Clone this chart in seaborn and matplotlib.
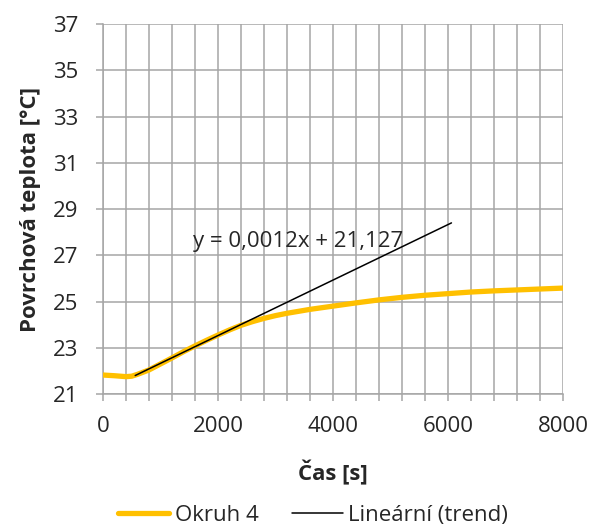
import matplotlib
matplotlib.use("Agg")
import matplotlib.pyplot as plt
from matplotlib.ticker import MultipleLocator, FixedLocator
from matplotlib.lines import Line2D
import seaborn as sns
import pandas as pd
import numpy as np

# Measured surface temperature of circuit 4
time_s = [0, 200, 400, 500, 600, 800, 1000, 1200, 1400, 1600, 1800, 2000,
          2200, 2400, 2600, 2800, 3000, 3200, 3600, 4000, 4400, 4800, 5200,
          5600, 6000, 6400, 6800, 7200, 7600, 8000]
temp_c = [21.82, 21.79, 21.75, 21.77, 21.85, 22.04, 22.3, 22.56, 22.83, 23.08,
          23.32, 23.55, 23.77, 23.97, 24.13, 24.27, 24.39, 24.49, 24.66, 24.8,
          24.94, 25.07, 25.18, 25.27, 25.34, 25.41, 25.46, 25.5, 25.54, 25.58]

# Linear trend fitted to the rising part
trend_slope = 0.0012
trend_intercept = 21.127
trend_range = [560, 6060]
trend_label = "y = 0,0012x + 21,127"

y_ticks = [21, 23, 25, 27, 29, 31, 33, 35, 37]
series_name = "Okruh 4"
trend_name = "Lineární (trend)"
x_label = "Čas [s]"
y_label = "Povrchová teplota [°C]"

sns.set_theme(style="white")
plt.rcParams['font.family'] = ['Open Sans', 'DejaVu Sans']

fig = plt.figure(figsize=(5.94, 5.29), dpi=100)
ax = fig.add_axes([0.1734, 0.2552, 0.7744, 0.6994])

df = pd.DataFrame({"t": time_s, "T": temp_c})
sns.lineplot(data=df, x="t", y="T", ax=ax, color="#FFC000", linewidth=3.8,
             solid_capstyle="round", solid_joinstyle="round", zorder=3)

tx = np.array(trend_range, dtype=float)
tdf = pd.DataFrame({"t": tx, "T": trend_slope * tx + trend_intercept})
sns.lineplot(data=tdf, x="t", y="T", ax=ax, color="black", linewidth=1.1, zorder=4)

ax.set_xlim(0, 8000)
ax.set_ylim(21, 37)
ax.xaxis.set_major_locator(MultipleLocator(2000))
ax.xaxis.set_minor_locator(MultipleLocator(400))
ax.yaxis.set_major_locator(FixedLocator(y_ticks))

grid_c = "#A6A6A6"
ax.grid(True, which="major", axis="both", color=grid_c, linewidth=1.1)
ax.grid(True, which="minor", axis="x", color=grid_c, linewidth=1.1)
ax.set_axisbelow(True)

for s in ["top", "right"]:
    ax.spines[s].set_visible(False)
for s in ["left", "bottom"]:
    ax.spines[s].set_color(grid_c)
    ax.spines[s].set_linewidth(1.1)

ax.tick_params(axis="x", which="both", direction="out", length=5, width=1.1,
               color=grid_c, bottom=True, labelsize=16, pad=11)
ax.tick_params(axis="y", which="major", direction="out", length=5, width=1.1,
               color=grid_c, left=True, labelsize=16, pad=13)

ax.set_xlabel(x_label, fontsize=16, fontweight="bold")
ax.set_ylabel(y_label, fontsize=16, fontweight="bold")
ax.xaxis.set_label_coords(0.5, -0.178)
ax.yaxis.set_label_coords(-0.135, 0.5)

ax.text(1560, 27.6, trend_label, fontsize=16, ha="left", va="center", zorder=5)

handles = [Line2D([], [], color="#FFC000", linewidth=3.8, solid_capstyle="round"),
           Line2D([], [], color="black", linewidth=1.1)]
fig.legend(handles, [series_name, trend_name], loc="center",
           bbox_to_anchor=(0.527, 0.026), ncol=2, frameon=False, fontsize=16,
           handlelength=2.3, handletextpad=0.25, columnspacing=1.5,
           borderpad=0, borderaxespad=0)

fig.savefig("out.png", dpi=100)
